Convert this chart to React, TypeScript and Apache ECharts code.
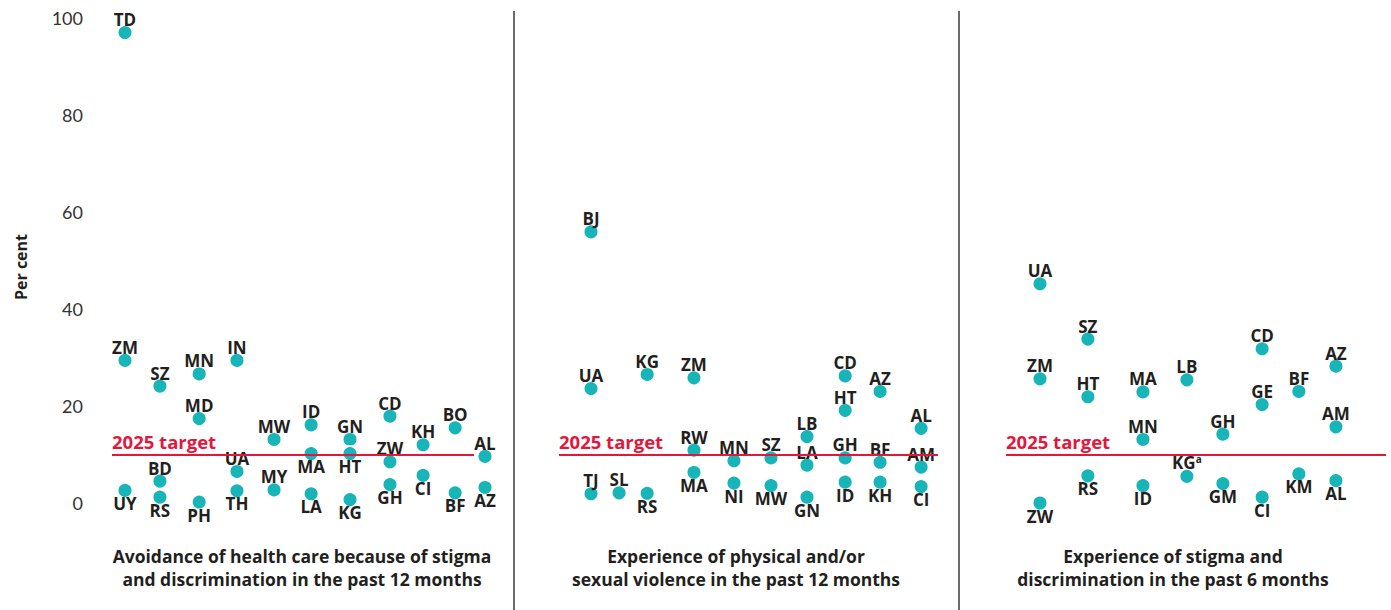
import React, { useEffect, useRef } from "react";
import * as echarts from "echarts";

// ---------- data ----------
const yTicks = [0, 20, 40, 60, 80, 100];
const targetValue = 10;
const targetLabel = "2025 target";
const yAxisTitle = "Per cent";

const panelTitles = [
  "Avoidance of health care because of stigma\nand discrimination in the past 12 months",
  "Experience of physical and/or\nsexual violence in the past 12 months",
  "Experience of stigma and\ndiscrimination in the past 6 months",
];

// column slots (x values) of each panel
const p1Slots = [0, 0.97, 2.06, 3.11, 4.14, 5.17, 6.25, 7.36, 8.28, 9.17, 10.0];
const p2Slots = [0, 0.78, 1.56, 2.86, 3.97, 5.0, 6.0, 7.06, 8.03, 9.17];
const p3Slots = [0, 1.33, 2.86, 4.08, 5.08, 6.17, 7.19, 8.22];

// Panel 1: avoidance of health care
const p1Codes = ["TD", "ZM", "UY", "SZ", "BD", "RS", "MN", "MD", "PH", "IN", "UA", "TH", "MW", "MY", "ID", "MA", "LA", "GN", "HT", "KG", "CD", "ZW", "GH", "KH", "CI", "BO", "BF", "AL", "AZ"];
const p1Values = [97.0, 29.4, 2.6, 24.1, 4.5, 1.2, 26.6, 17.4, 0.2, 29.4, 6.5, 2.5, 13.1, 2.7, 16.1, 10.2, 1.9, 13.1, 10.2, 0.7, 17.9, 8.5, 3.8, 12.0, 5.7, 15.5, 2.1, 9.6, 3.2];
const p1Col = [0, 0, 0, 1, 1, 1, 2, 2, 2, 3, 3, 3, 4, 4, 5, 5, 5, 6, 6, 6, 7, 7, 7, 8, 8, 9, 9, 10, 10];
const p1LabelAt = ["t", "t", "b", "t", "t", "b", "t", "t", "b", "t", "t", "b", "t", "t", "t", "b", "b", "t", "b", "b", "t", "t", "b", "t", "b", "t", "b", "t", "b"];

// Panel 2: physical and/or sexual violence
const p2Codes = ["BJ", "UA", "TJ", "SL", "KG", "RS", "ZM", "RW", "MA", "MN", "NI", "SZ", "MW", "LB", "LA", "GN", "CD", "HT", "GH", "ID", "AZ", "BF", "KH", "AL", "AM", "CI"];
const p2Values = [55.9, 23.6, 1.9, 2.1, 26.5, 2.0, 25.8, 10.9, 6.3, 8.7, 4.1, 9.3, 3.6, 13.7, 7.8, 1.2, 26.2, 19.1, 9.3, 4.3, 23.0, 8.4, 4.3, 15.4, 7.4, 3.4];
const p2Col = [0, 0, 0, 1, 2, 2, 3, 3, 3, 4, 4, 5, 5, 6, 6, 6, 7, 7, 7, 7, 8, 8, 8, 9, 9, 9];
const p2LabelAt = ["t", "t", "t", "t", "t", "b", "t", "t", "b", "t", "b", "t", "b", "t", "t", "b", "t", "t", "t", "b", "t", "t", "b", "t", "t", "b"];

// Panel 3: stigma and discrimination
const p3Codes = ["UA", "ZM", "ZW", "SZ", "HT", "RS", "MA", "MN", "ID", "LB", "KGa", "GH", "GM", "CD", "GE", "CI", "BF", "KM", "AZ", "AM", "AL"];
const p3Values = [45.2, 25.6, 0, 33.8, 21.9, 5.6, 22.9, 13.1, 3.6, 25.4, 5.5, 14.2, 4.0, 31.8, 20.3, 1.2, 23.0, 6.0, 28.2, 15.7, 4.6];
const p3Col = [0, 0, 0, 1, 1, 1, 2, 2, 2, 3, 3, 4, 4, 5, 5, 5, 6, 6, 7, 7, 7];
const p3LabelAt = ["t", "t", "b", "t", "t", "b", "t", "t", "b", "t", "t", "t", "b", "t", "t", "b", "t", "b", "t", "t", "b"];

// ---------- styling / layout ----------
const FONT = "'Open Sans', 'Noto Sans', sans-serif";
const TICK_FONT = "Lato, 'Open Sans', sans-serif";
const TEAL = "#17b4b8";
const RED = "#e2173d";
const INK = "#231f20";

const grids = [
  { left: 112, width: 362, xMin: -0.361, xMax: 9.694, titleX: 302 },
  { left: 559, width: 379, xMin: -0.889, xMax: 9.639, titleX: 736 },
  { left: 1006, width: 380, xMin: -0.944, xMax: 9.611, titleX: 1173 },
];
const GRID_TOP = 18;
const GRID_H = 485;

function buildPoints(codes: string[], values: number[], cols: number[], slots: number[], at: string[]) {
  return codes.map((c, i) => ({
    name: c,
    value: [slots[cols[i]], values[i]],
    label: { position: at[i] === "b" ? "bottom" : "top" },
  }));
}

export default function App() {
  const ref = useRef<HTMLDivElement>(null);

  useEffect(() => {
    document.body.style.margin = "0";
    if (!ref.current) return;
    const chart = echarts.init(ref.current, undefined, { renderer: "svg" });

    const panels = [
      buildPoints(p1Codes, p1Values, p1Col, p1Slots, p1LabelAt),
      buildPoints(p2Codes, p2Values, p2Col, p2Slots, p2LabelAt),
      buildPoints(p3Codes, p3Values, p3Col, p3Slots, p3LabelAt),
    ];

    const series: any[] = [];
    panels.forEach((pts, i) => {
      series.push({
        type: "line",
        xAxisIndex: i,
        yAxisIndex: i,
        data: [],
        z: 1,
        silent: true,
        markLine: {
          symbol: "none",
          silent: true,
          lineStyle: { color: RED, width: 2.2, type: "solid" },
          label: {
            show: true,
            position: "insideStartTop",
            formatter: targetLabel,
            color: RED,
            fontFamily: FONT,
            fontWeight: "bold",
            fontSize: 18.5,
            distance: [0, 4],
          },
          data: [{ yAxis: targetValue }],
        },
      });
      series.push({
        type: "scatter",
        xAxisIndex: i,
        yAxisIndex: i,
        z: 3,
        clip: false,
        symbol: "circle",
        symbolSize: 15,
        itemStyle: { color: TEAL, borderColor: "#ffffff", borderWidth: 2, opacity: 1 },
        label: {
          show: true,
          distance: -4,
          color: INK,
          fontFamily: FONT,
          fontWeight: "bold",
          fontSize: 17,
          formatter: (p: any) => (p.name === "KGa" ? "{m|KG}{s|a}" : p.name),
          rich: {
            m: { color: INK, fontFamily: FONT, fontWeight: "bold", fontSize: 17 },
            s: { color: INK, fontFamily: FONT, fontWeight: "bold", fontSize: 10, padding: [0, 0, 8, 0] },
          },
        },
        emphasis: { disabled: true },
        data: pts,
      });
    });

    const graphics: any[] = [
      { type: "line", shape: { x1: 514, y1: 11, x2: 514, y2: 610 }, style: { stroke: "#3a3a3a", lineWidth: 1.5 } },
      { type: "line", shape: { x1: 959, y1: 11, x2: 959, y2: 610 }, style: { stroke: "#3a3a3a", lineWidth: 1.5 } },
      {
        type: "text",
        x: 21,
        y: 267,
        rotation: Math.PI / 2,
        style: {
          text: yAxisTitle,
          font: `bold 16px ${FONT}`,
          fill: INK,
          textAlign: "center",
          textVerticalAlign: "middle",
        },
      },
    ];
    grids.forEach((g, i) => {
      graphics.push({
        type: "text",
        x: g.titleX,
        y: 567,
        style: {
          text: panelTitles[i],
          font: `bold 17.5px ${FONT}`,
          fill: INK,
          textAlign: "center",
          textVerticalAlign: "middle",
          lineHeight: 23,
        },
      });
    });

    chart.setOption({
      animation: false,
      backgroundColor: "#ffffff",
      grid: grids.map((g) => ({ left: g.left, width: g.width, top: GRID_TOP, height: GRID_H, containLabel: false })),
      xAxis: grids.map((g, i) => ({
        type: "value",
        gridIndex: i,
        min: g.xMin,
        max: g.xMax,
        show: false,
      })),
      yAxis: grids.map((g, i) => ({
        type: "value",
        gridIndex: i,
        min: yTicks[0],
        max: yTicks[yTicks.length - 1],
        interval: 20,
        show: i === 0,
        axisLine: { show: false },
        axisTick: { show: false },
        splitLine: { show: false },
        axisLabel: {
          show: i === 0,
          margin: 29,
          color: "#333333",
          fontFamily: TICK_FONT,
          fontWeight: "normal",
          fontSize: 18,
        },
      })),
      series,
      graphic: graphics,
    });

    return () => chart.dispose();
  }, []);

  return <div ref={ref} style={{ width: 1391, height: 610 }} />;
}
